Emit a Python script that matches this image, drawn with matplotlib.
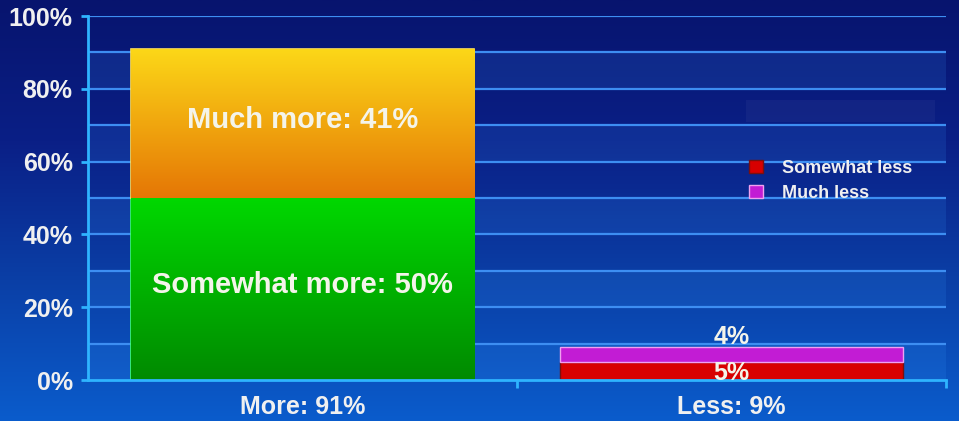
import matplotlib
matplotlib.use('Agg')
import matplotlib.pyplot as plt
import numpy as np
from matplotlib.colors import LinearSegmentedColormap
from matplotlib.patches import Rectangle

plt.rcParams['font.family'] = ['Liberation Sans', 'DejaVu Sans']
plt.rcParams['font.weight'] = 'bold'

# survey answers, in percent
categories = ['More: 91%', 'Less: 9%']
more_labels = ['Somewhat more', 'Much more']
more_values = [50, 41]
less_labels = ['Somewhat less', 'Much less']
less_values = [5, 4]
yticks = [0, 20, 40, 60, 80, 100]


def gradient_fill(ax, bar, top, bottom):
    # paint a vertical gradient inside a bar patch
    x0, y0 = bar.get_x(), bar.get_y()
    w, h = bar.get_width(), bar.get_height()
    cmap = LinearSegmentedColormap.from_list('g', [bottom, top])
    grad = np.linspace(0, 1, 256).reshape(-1, 1)
    im = ax.imshow(grad, extent=[x0, x0 + w, y0, y0 + h], origin='lower',
                   aspect='auto', cmap=cmap, zorder=bar.get_zorder() + 0.1)
    im.set_clip_path(bar)


fig = plt.figure(figsize=(9.59, 4.21), dpi=100)

# slide background
bg = fig.add_axes([0, 0, 1, 1], zorder=-5)
bg_cmap = LinearSegmentedColormap.from_list('bg', ['#0a5ccc', '#0b3fa6', '#0a1f86', '#07146e'])
bg.imshow(np.linspace(0, 1, 256).reshape(-1, 1), cmap=bg_cmap, origin='lower',
          aspect='auto', extent=[0, 1, 0, 1])
bg.set_xlim(0, 1)
bg.set_ylim(0, 1)
bg.axis('off')

ax = fig.add_axes([88 / 959, 41 / 421, 858 / 959, 364 / 421])
ax.set_facecolor('none')

# alternating lighter bands and grid lines every 10%
for lo in range(0, 100, 20):
    ax.axhspan(lo, lo + 10, color='#3a9cff', alpha=0.14, lw=0, zorder=0)
for g in range(10, 101, 10):
    ax.axhline(g, color='#3d8ef2', lw=1.6, zorder=1)

# More bar
b1 = ax.bar(0, more_values[0], width=0.8, color='#00c000', edgecolor='#3cff70', lw=1.2, zorder=3)[0]
b2 = ax.bar(0, more_values[1], width=0.8, bottom=more_values[0], color='#f5a800',
            edgecolor='#ffe060', lw=1.2, zorder=3)[0]
gradient_fill(ax, b1, '#00d800', '#008a00')
gradient_fill(ax, b2, '#fcd818', '#e57605')

# Less bar
b3 = ax.bar(1, less_values[0], width=0.8, color='#d80000', edgecolor='#7a1010', lw=1, zorder=3)[0]
b4 = ax.bar(1, less_values[1], width=0.8, bottom=less_values[0], color='#c21cd4',
            edgecolor='#f0a0f0', lw=1, zorder=3)[0]

txt = dict(color='#f4f4ea', fontweight='bold', ha='center', va='center', zorder=6)
ax.text(0, more_values[0] / 2 + 1, f'{more_labels[0]}: {more_values[0]}%', fontsize=21, **txt)
ax.text(0, more_values[0] + more_values[1] / 2 + 1, f'{more_labels[1]}: {more_values[1]}%',
        fontsize=21, **txt)
ax.text(1, 2.0, f'{less_values[0]}%', fontsize=18, **txt)
ax.text(1, sum(less_values) + 2.8, f'{less_values[1]}%', fontsize=18, **txt)

# faint box above the legend
ax.add_patch(Rectangle((0.767, 0.71), 0.22, 0.06, transform=ax.transAxes,
                       color='white', alpha=0.04, lw=0, zorder=2))

leg = ax.legend(handles=[b3, b4], labels=less_labels, loc='upper left',
                bbox_to_anchor=(0.762, 0.625), frameon=False, fontsize=13,
                handlelength=0.75, handleheight=0.75, handletextpad=1.1,
                labelspacing=0.45, borderaxespad=0)
for t in leg.get_texts():
    t.set_color('#f0f0f0')
    t.set_fontweight('bold')

ax.set_xlim(-0.5, 1.5)
ax.set_ylim(0, 100)
ax.set_yticks(yticks)
ax.set_yticklabels([f'{v}%' for v in yticks])
ax.set_xticks([0, 1])
ax.set_xticklabels(categories)
ax.set_xticks([0.5, 1.5], minor=True)

for s in ['top', 'right']:
    ax.spines[s].set_visible(False)
for s in ['left', 'bottom']:
    ax.spines[s].set_color('#2fb4ff')
    ax.spines[s].set_linewidth(2)
    ax.spines[s].set_zorder(5)

ax.tick_params(axis='y', colors='#2fb4ff', length=5, width=2, pad=6,
               labelcolor='#f0f0f0', labelsize=18)
ax.tick_params(axis='x', which='major', length=0, pad=11, labelcolor='#f0f0f0', labelsize=18)
ax.tick_params(axis='x', which='minor', colors='#2fb4ff', length=6, width=2)

fig.savefig('out.png', dpi=100)
